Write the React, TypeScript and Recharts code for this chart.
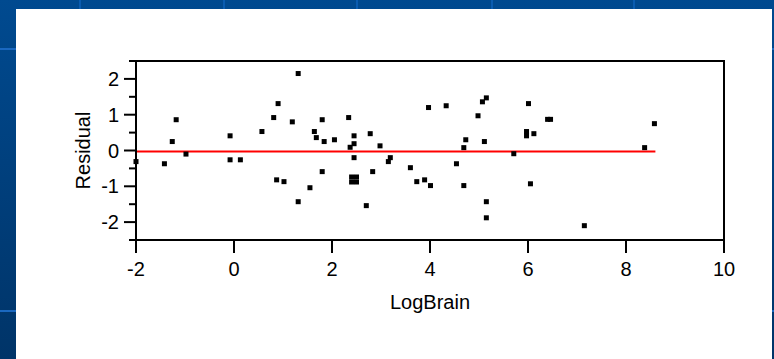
import {
  ScatterChart,
  Scatter,
  XAxis,
  YAxis,
  ReferenceLine,
  ReferenceArea,
  Label,
} from 'recharts';

// LogBrain values and their residuals
const logBrain = [
  -2.0, -1.42, -1.26, -1.18, -0.98, -0.08, -0.08, 0.13, 0.57, 0.81,
  0.9, 0.87, 1.02, 1.19, 1.31, 1.31, 1.55, 1.64, 1.68, 1.8,
  1.84, 1.8, 2.05, 2.34, 2.37, 2.45, 2.45, 2.45, 2.4, 2.5,
  2.4, 2.5, 2.7, 2.78, 2.83, 2.98, 3.15, 3.19, 3.6, 3.73,
  3.89, 4.01, 3.97, 4.33, 4.54, 4.69, 4.73, 4.69, 4.98, 5.07,
  5.15, 5.11, 5.15, 5.15, 5.71, 5.97, 5.97, 6.01, 6.12, 6.05,
  6.4, 6.46, 7.15, 8.38, 8.58,
];
const residual = [
  -0.31, -0.37, 0.25, 0.86, -0.1, 0.41, -0.26, -0.26, 0.53, 0.92,
  1.31, -0.82, -0.87, 0.8, 2.15, -1.43, -1.04, 0.53, 0.36, 0.86,
  0.25, -0.59, 0.3, 0.92, 0.09, 0.41, 0.19, -0.2, -0.74, -0.74,
  -0.88, -0.88, -1.54, 0.47, -0.59, 0.13, -0.31, -0.2, -0.48, -0.87,
  -0.82, -0.98, 1.2, 1.25, -0.37, 0.08, 0.3, -0.98, 0.97, 1.36,
  1.47, 0.25, -1.43, -1.88, -0.09, 0.53, 0.41, 1.31, 0.47, -0.93,
  0.87, 0.87, -2.1, 0.08, 0.75,
];

// fitted mean line
const fitX = [-2, 8.6];
const fitY = [-0.03, -0.03];

const xTicks = [-2, 0, 2, 4, 6, 8, 10];
const yTicks = [-2.5, -2, -1.5, -1, -0.5, 0, 0.5, 1, 1.5, 2, 2.5];

const points = logBrain.map((x, i) => ({ x, y: residual[i] }));

const FONT = '"Liberation Sans", Arial, sans-serif';

// light lines in the blue backdrop
const BG_V_LINES = [79, 223, 356, 491, 633];
const BG_H_LINES = [48, 310];

function SquareDot(props: any) {
  const { cx, cy } = props;
  if (cx == null || cy == null) return null;
  return <rect x={cx - 2.5} y={cy - 2.5} width={5} height={5} fill="#000" />;
}

function YTick(props: any) {
  const { x, y, payload } = props;
  const v = payload.value;
  const major = Number.isInteger(v);
  if (!major) {
    return <line x1={x - 7} x2={x} y1={y} y2={y} stroke="#000" strokeWidth={2} />;
  }
  return (
    <g>
      <line x1={x - 12} x2={x} y1={y} y2={y} stroke="#000" strokeWidth={2} />
      <text
        x={x - 17}
        y={y + 7}
        textAnchor="end"
        fontSize={20}
        fontFamily={FONT}
        fill="#000"
      >
        {v}
      </text>
    </g>
  );
}

function XTick(props: any) {
  const { x, y, payload } = props;
  return (
    <g>
      <line x1={x} x2={x} y1={y} y2={y + 13} stroke="#000" strokeWidth={2} />
      <text
        x={x}
        y={y + 36}
        textAnchor="middle"
        fontSize={20}
        fontFamily={FONT}
        fill="#000"
      >
        {payload.value}
      </text>
    </g>
  );
}

export default function App() {
  return (
    <div
      style={{
        position: 'absolute',
        left: 0,
        top: 0,
        width: 774,
        height: 359,
        overflow: 'hidden',
        background: 'linear-gradient(#004a90, #003468)',
      }}
    >
      {BG_V_LINES.map((gx) => (
        <div
          key={'v' + gx}
          style={{ position: 'absolute', left: gx, top: 0, width: 2, height: 359, background: '#0a5cb0' }}
        />
      ))}
      {BG_H_LINES.map((gy) => (
        <div
          key={'h' + gy}
          style={{ position: 'absolute', left: 0, top: gy, width: 774, height: 2, background: '#1a68c0' }}
        />
      ))}
      <div
        style={{ position: 'absolute', left: 16, top: 9, width: 756, height: 350, background: '#fff' }}
      />
      <div style={{ position: 'absolute', left: 0, top: 0 }}>
        <ScatterChart
          width={774}
          height={359}
          margin={{ top: 61, right: 50, bottom: 0, left: 30 }}
        >
          <XAxis
            type="number"
            dataKey="x"
            domain={[-2, 10]}
            ticks={xTicks}
            interval={0}
            height={119}
            tickSize={0}
            tickMargin={0}
            tickLine={false}
            axisLine={{ stroke: '#000', strokeWidth: 2 }}
            tick={<XTick />}
          >
            <Label
              value="LogBrain"
              position="insideTop"
              offset={55}
              fontSize={20}
              fontFamily={FONT}
              fill="#000"
            />
          </XAxis>
          <YAxis
            type="number"
            dataKey="y"
            domain={[-2.5, 2.5]}
            ticks={yTicks}
            interval={0}
            width={106}
            tickSize={0}
            tickMargin={0}
            tickLine={false}
            axisLine={{ stroke: '#000', strokeWidth: 2 }}
            tick={<YTick />}
          >
            <Label
              value="Residual"
              position="center"
              angle={-90}
              fontSize={20}
              fontFamily={FONT}
              fill="#000"
            />
          </YAxis>
          <ReferenceArea
            x1={-2}
            x2={10}
            y1={-2.5}
            y2={2.5}
            fill="none"
            fillOpacity={0}
            stroke="#000"
            strokeWidth={2}
            strokeOpacity={1}
          />
          <ReferenceLine
            segment={[
              { x: fitX[0], y: fitY[0] },
              { x: fitX[1], y: fitY[1] },
            ]}
            stroke="#ff0000"
            strokeWidth={2}
          />
          <Scatter data={points} shape={<SquareDot />} isAnimationActive={false} />
        </ScatterChart>
      </div>
    </div>
  );
}
